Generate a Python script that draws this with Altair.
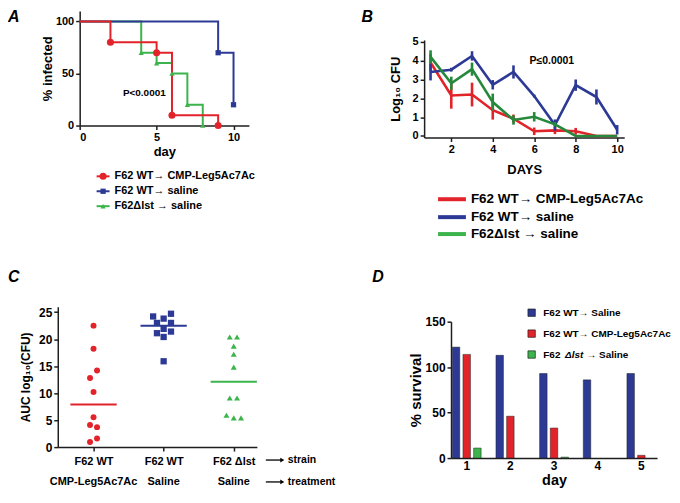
import altair as alt
import pandas as pd

FONT = "Liberation Sans"
RED = "#e3232a"
BLUE = "#2c3a95"
GREEN = "#3cb44b"
DKGREEN = "#26883b"
INK = "#1e1e1e"

# ---------------- data ----------------
# Panel A (Kaplan-Meier, % infected)
A_labels = ["F62 WT\u2192 CMP-Leg5Ac7Ac", "F62 WT\u2192 saline", "F62\u0394lst \u2192 saline"]
A_red_day = [0, 2, 5, 6, 9]
A_red_pct = [100, 80, 70, 10, 0]
A_blue_day = [0, 9, 10]
A_blue_pct = [100, 70, 20]
A_green_day = [0, 4, 5, 6, 7, 8]
A_green_pct = [100, 70, 60, 50, 20, 0]
A_p_text = "P<0.0001"

# Panel B (log10 CFU per day, mean and error)
B_labels = ["F62 WT\u2192 CMP-Leg5Ac7Ac", "F62 WT\u2192 saline", "F62\u0394lst \u2192 saline"]
B_days = [1, 2, 3, 4, 5, 6, 7, 8, 9, 10]
B_red_mean = [3.9, 2.15, 2.2, 1.37, 0.92, 0.25, 0.3, 0.25, 0.0, 0.0]
B_red_err = [0.45, 0.7, 0.63, 0.5, 0.22, 0.2, 0.2, 0.18, 0.0, 0.0]
B_blue_mean = [3.4, 3.52, 4.25, 2.72, 3.4, 2.12, 0.58, 2.7, 2.07, 0.33]
B_blue_err = [0.45, 0.1, 0.25, 0.25, 0.35, 0.08, 0.3, 0.3, 0.4, 0.25]
B_green_mean = [4.2, 2.8, 3.55, 1.8, 0.85, 1.02, 0.62, 0.0, 0.0, 0.0]
B_green_err = [0.35, 0.35, 0.35, 0.45, 0.25, 0.25, 0.12, 0.0, 0.0, 0.0]
B_p_text = "P\u22640.0001"

# Panel C (AUC log10 CFU, individual animals)
C_strains = ["F62 WT", "F62 WT", "F62 \u0394lst"]
C_treatments = ["CMP-Leg5Ac7Ac", "Saline", "Saline"]
C_red_auc = [22.5, 18.2, 14.2, 12.8, 10.2, 5.55, 4.1, 3.7, 1.6, 0.95]
C_red_jitter = [0, 0, 0.05, -0.05, 0, 0, -0.05, 0.05, 0.05, -0.05]
C_blue_auc = [24.2, 24.7, 23.8, 23.0, 23.0, 21.9, 21.1, 21.4, 20.4, 15.9]
C_blue_jitter = [-0.15, 0.105, 0, -0.095, 0.105, 0, -0.095, 0.105, 0, 0]
C_green_auc = [20.4, 20.4, 18.7, 17.2, 14.8, 9.1, 9.1, 5.9, 5.4, 5.4]
C_green_jitter = [-0.057, 0.047, 0, 0, 0, -0.057, 0.047, -0.104, 0, 0.104]
C_means = [7.9, 22.5, 12.1]

# Panel D (% survival per day)
D_days = ["1", "2", "3", "4", "5"]
D_labels = ["F62 WT\u2192 Saline", "F62 WT\u2192 CMP-Leg5Ac7Ac", "F62 \u0394lst \u2192 Saline"]
D_saline = [122, 113, 93, 86, 93]
D_cmp = [114, 46, 33, 0, 3]
D_dlst = [11, 0, 1, 0, 0]

# ---------------- layout (panel = one quadrant of the figure) ----------------
QW = 332
QH_TOP, QH_BOT = 242, 240


def ax(**kw):
    base = dict(domainColor=INK, domainWidth=1.5, tickColor=INK, tickWidth=1.5, tickSize=4,
                labelFont=FONT, labelFontWeight="bold", labelColor="black", labelFontSize=11,
                labelPadding=2, titleFont=FONT, titleFontWeight="bold", titleColor="black",
                grid=False)
    base.update(kw)
    return alt.Axis(**base)


def one():
    return pd.DataFrame({"k": [0]})


def frame(w, h):
    return alt.Chart(one()).mark_rect(opacity=0).encode(
        x=alt.value(0), x2=alt.value(w), y=alt.value(0), y2=alt.value(h))


def label(s, x, y, size=11, align="left", style="normal", weight="bold", color="black"):
    return alt.Chart(pd.DataFrame({"t": [s]})).mark_text(
        align=align, baseline="middle", fontSize=size, font=FONT, fontStyle=style,
        fontWeight=weight, color=color).encode(x=alt.value(x), y=alt.value(y), text="t:N")


def letter(s, x, y):
    return alt.Chart(pd.DataFrame({"t": [s]})).mark_text(
        align="left", baseline="alphabetic", fontSize=16, font=FONT, fontStyle="italic",
        fontWeight="bold", color="black").encode(x=alt.value(x), y=alt.value(y), text="t:N")


# ---------------- Panel A ----------------
a_x = alt.X("day:Q", scale=alt.Scale(domain=[0, 11], range=[72, 242], nice=False, zero=False),
            axis=ax(values=[0, 5, 10], title="day", titleFontSize=13, titlePadding=3,
                    offset=-(QH_TOP - 117)))
a_y = alt.Y("pct:Q", scale=alt.Scale(domain=[0, 110], range=[117, 2], nice=False),
            axis=ax(values=[0, 50, 100], title="% infected", titleFontSize=13, titlePadding=1,
                    offset=-72))

A_specs = [
    (A_green_day, A_green_pct, GREEN, "triangle-up", 28),
    (A_blue_day, A_blue_pct, BLUE, "square", 28),
    (A_red_day, A_red_pct, RED, "circle", 50),
]
A_layers = [frame(QW, QH_TOP)]
for d, p, col, shp, sz in A_specs:
    df = pd.DataFrame({"day": d, "pct": p})
    A_layers.append(alt.Chart(df).mark_line(interpolate="step-after", color=col, strokeWidth=2)
                    .encode(x=a_x, y=a_y))
for d, p, col, shp, sz in A_specs:
    df = pd.DataFrame({"day": d, "pct": p})
    df = df[df["day"] > 0]
    A_layers.append(alt.Chart(df).mark_point(shape=shp, size=sz, filled=True, color=col, opacity=1)
                    .encode(x=a_x, y=a_y))
A_layers.append(alt.Chart(pd.DataFrame({"day": [4.2], "pct": [31], "t": [A_p_text]}))
                .mark_text(fontSize=10, fontWeight="bold", font=FONT, color="black")
                .encode(x=a_x, y=a_y, text="t:N"))
A_leg = [(A_labels[0], RED, "circle", 50), (A_labels[1], BLUE, "square", 28),
         (A_labels[2], GREEN, "triangle-up", 28)]
for i, (lab, col, shp, sz) in enumerate(A_leg):
    yy = [168, 183, 198][i]
    A_layers.append(alt.Chart(one()).mark_rule(color=col, strokeWidth=2).encode(
        x=alt.value(89), x2=alt.value(102), y=alt.value(yy)))
    A_layers.append(alt.Chart(one()).mark_point(shape=shp, size=sz, filled=True, color=col, opacity=1)
                    .encode(x=alt.value(95.5), y=alt.value(yy)))
    A_layers.append(label(lab, 107, yy, size=11))
A_layers.append(letter("A", 0, 13))
panelA = alt.layer(*A_layers).properties(width=QW, height=QH_TOP)

# ---------------- Panel B ----------------
b_x = alt.X("day:Q", scale=alt.Scale(domain=[0.69, 10.34], range=[86, 287], nice=False, zero=False),
            axis=ax(values=[2, 4, 6, 8, 10], title="DAYS", titleFontSize=13, titlePadding=9,
                    offset=-(QH_TOP - 129)))
b_y = alt.Y("mean:Q", scale=alt.Scale(domain=[-0.08, 5.1], range=[129, 31], nice=False, zero=False),
            axis=ax(values=[0, 1, 2, 3, 4, 5], title="Log\u2081\u2080 CFU", titleFontSize=13,
                    titlePadding=10, offset=-86))
B_specs = [(B_red_mean, B_red_err, RED), (B_blue_mean, B_blue_err, BLUE),
           (B_green_mean, B_green_err, DKGREEN)]
B_layers = [frame(QW, QH_TOP)]
for m, e, col in B_specs:
    df = pd.DataFrame({"day": B_days, "mean": m,
                       "lo": [a - b for a, b in zip(m, e)], "hi": [a + b for a, b in zip(m, e)],
                       "err": e})
    B_layers.append(alt.Chart(df).mark_line(color=col, strokeWidth=2.6).encode(x=b_x, y=b_y))
    B_layers.append(alt.Chart(df).transform_filter("datum.err > 0").mark_rule(color=col, strokeWidth=2.6)
                    .encode(x=b_x, y=alt.Y("lo:Q"), y2="hi:Q"))
B_layers.append(alt.Chart(pd.DataFrame({"day": [6.85], "mean": [3.98], "t": [B_p_text]}))
                .mark_text(fontSize=10.5, fontWeight="bold", font=FONT, color="black")
                .encode(x=b_x, y=b_y, text="t:N"))
B_leg = [(B_labels[0], RED), (B_labels[1], BLUE), (B_labels[2], GREEN)]
for i, (lab, col) in enumerate(B_leg):
    yy = [191, 209, 226][i]
    B_layers.append(alt.Chart(one()).mark_rule(color=col, strokeWidth=4).encode(
        x=alt.value(100), x2=alt.value(128), y=alt.value(yy)))
    B_layers.append(label(lab, 133, yy, size=13.5))
B_layers.append(letter("B", 23, 13))
panelB = alt.layer(*B_layers).properties(width=QW, height=QH_TOP)

# ---------------- Panel C ----------------
c_x = alt.X("pos:Q", scale=alt.Scale(domain=[0.49, 3.33], range=[50, 250], nice=False, zero=False),
            axis=ax(values=[1, 2, 3],
                    labelExpr="datum.value == 3 ? '" + C_strains[2] + "' : '" + C_strains[0] + "'",
                    title=None, labelFontSize=11, labelPadding=4, offset=-(QH_BOT - 198)))
c_y = alt.Y("auc:Q", scale=alt.Scale(domain=[0, 26], range=[198, 57], nice=False),
            axis=ax(values=[0, 5, 10, 15, 20, 25], title="AUC log\u2081\u2080(CFU)", titleFontSize=12,
                    labelFontSize=12, titlePadding=6, offset=-50))
C_specs = [(C_red_auc, C_red_jitter, 1, RED, "circle", 36, C_means[0]),
           (C_blue_auc, C_blue_jitter, 2, BLUE, "square", 40, C_means[1]),
           (C_green_auc, C_green_jitter, 3, GREEN, "triangle-up", 36, C_means[2])]
C_layers = [frame(QW, QH_BOT)]
for vals, jit, cat, col, shp, sz, mean in C_specs:
    df = pd.DataFrame({"pos": [cat + j for j in jit], "auc": vals})
    C_layers.append(alt.Chart(df).mark_point(shape=shp, size=sz, filled=True, color=col, opacity=1)
                    .encode(x=c_x, y=c_y))
    mdf = pd.DataFrame({"pos": [cat - 0.33], "pos2": [cat + 0.33], "auc": [mean]})
    C_layers.append(alt.Chart(mdf).mark_rule(color=col, strokeWidth=2).encode(x=c_x, x2="pos2:Q", y=c_y))
C_layers.append(alt.Chart(pd.DataFrame({"pos": [1, 2, 3], "t": C_treatments}))
                .mark_text(fontSize=11, fontWeight="bold", font=FONT, color="black")
                .encode(x=c_x, y=alt.value(233), text="t:N"))
for yy, word in [(211, "strain"), (233, "treatment")]:
    C_layers.append(alt.Chart(one()).mark_rule(color="black", strokeWidth=1.3).encode(
        x=alt.value(259), x2=alt.value(274), y=alt.value(yy)))
    C_layers.append(alt.Chart(one()).mark_point(shape="triangle-right", size=22, filled=True,
                                                color="black", opacity=1)
                    .encode(x=alt.value(275.5), y=alt.value(yy)))
    C_layers.append(label(word, 281, yy, size=10.5))
C_layers.append(letter("C", 0, 32))
panelC = alt.layer(*C_layers).properties(width=QW, height=QH_BOT)

# ---------------- Panel D ----------------
d_df = pd.DataFrame({
    "day": D_days * 3,
    "grp": [D_labels[0]] * 5 + [D_labels[1]] * 5 + [D_labels[2]] * 5,
    "val": D_saline + D_cmp + D_dlst,
})
D_layers = [frame(QW, QH_BOT)]
D_layers.append(alt.Chart(d_df).transform_filter("datum.val > 0").mark_bar(stroke=INK, strokeWidth=0.5)
                .encode(
    x=alt.X("day:N", sort=D_days,
            scale=alt.Scale(range=[113, 320], paddingInner=0.34, paddingOuter=0.03),
            axis=ax(labelAngle=0, ticks=False, title="day", titleFontSize=14.5,
                    labelFontSize=12, labelPadding=3, titlePadding=2, offset=-(QH_BOT - 209))),
    xOffset=alt.XOffset("grp:N", sort=D_labels, scale=alt.Scale(paddingInner=0.3, paddingOuter=0)),
    y=alt.Y("val:Q", scale=alt.Scale(domain=[0, 150], range=[209, 72], nice=False),
            axis=ax(values=[0, 50, 100, 150], title="% survival", titleFontSize=15,
                    labelFontSize=12, titlePadding=2, offset=-113)),
    color=alt.Color("grp:N", sort=D_labels, scale=alt.Scale(domain=D_labels, range=[BLUE, RED, GREEN]),
                    legend=None),
))
D_leg_y = [63, 84, 105]
for i, col in enumerate([BLUE, RED, GREEN]):
    D_layers.append(alt.Chart(one()).mark_point(shape="square", size=55, filled=True, color=col,
                                                stroke=INK, strokeWidth=0.7, opacity=1)
                    .encode(x=alt.value(194), y=alt.value(D_leg_y[i])))
D_layers.append(label(D_labels[0], 205.7, D_leg_y[0], size=10))
D_layers.append(label(D_labels[1], 205.7, D_leg_y[1], size=10))
D_layers.append(label("F62", 205.7, D_leg_y[2], size=10))
D_layers.append(label("\u0394lst", 227.5, D_leg_y[2], size=10, style="italic"))
D_layers.append(label("\u2192 Saline", 249, D_leg_y[2], size=10))
D_layers.append(letter("D", 34, 32))
panelD = alt.layer(*D_layers).properties(width=QW, height=QH_BOT)

chart = alt.concat(
    panelA, panelB, panelC, panelD, columns=2, spacing=0, align="each"
).properties(padding=0).configure_view(stroke=None)

chart.save("out.html", embed_options={"renderer": "svg", "actions": False})
